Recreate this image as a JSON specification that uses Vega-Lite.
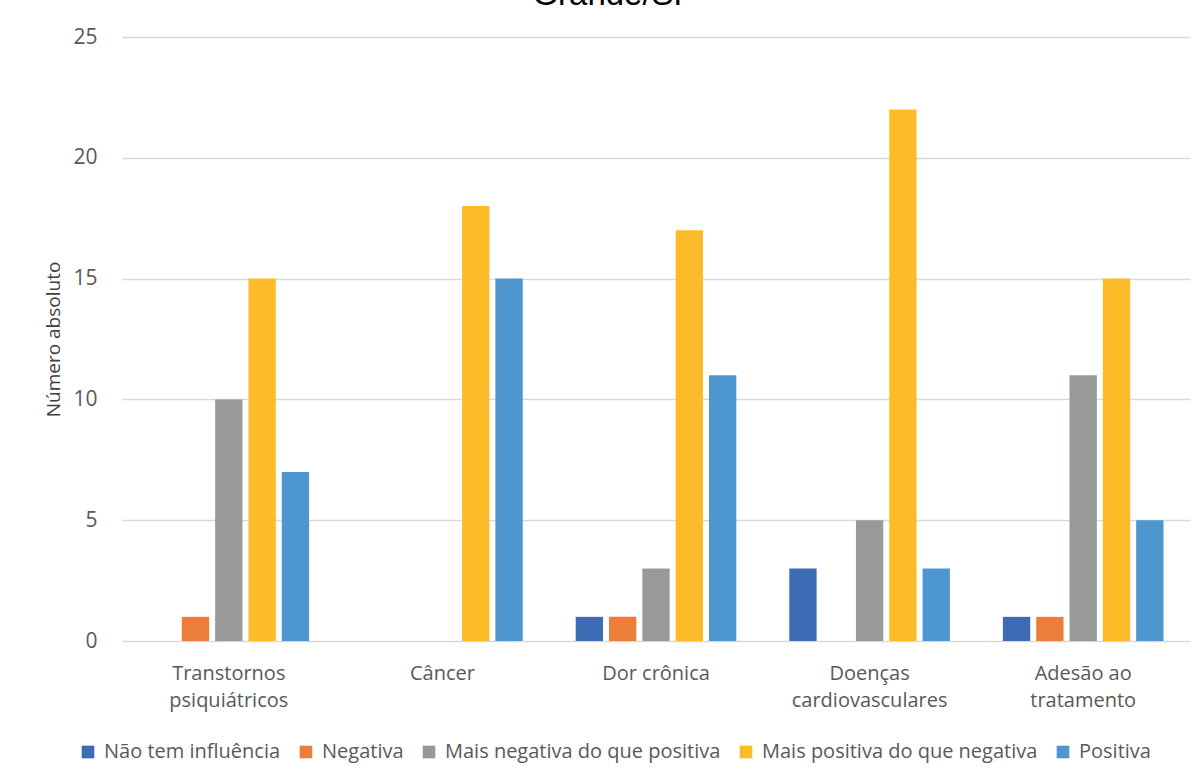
{
  "$schema": "https://vega.github.io/schema/vega-lite/v6.json",
  "width": 1068,
  "height": 604,
  "autosize": "none",
  "padding": {"left": 122, "top": 37, "right": 13, "bottom": 139},
  "background": "white",
  "title": {
    "text": "Grande/SP",
    "anchor": "middle",
    "font": "Liberation Sans",
    "fontSize": 33,
    "fontWeight": "normal",
    "color": "#000000",
    "baseline": "alphabetic",
    "offset": 6,
    "dx": -42,
    "dy": 18
  },
  "data": {
    "values": [
      {"condicao": "Transtornos psiquiátricos", "influencia": "Não tem influência", "n": 0},
      {"condicao": "Transtornos psiquiátricos", "influencia": "Negativa", "n": 1},
      {"condicao": "Transtornos psiquiátricos", "influencia": "Mais negativa do que positiva", "n": 10},
      {"condicao": "Transtornos psiquiátricos", "influencia": "Mais positiva do que negativa", "n": 15},
      {"condicao": "Transtornos psiquiátricos", "influencia": "Positiva", "n": 7},
      {"condicao": "Câncer", "influencia": "Não tem influência", "n": 0},
      {"condicao": "Câncer", "influencia": "Negativa", "n": 0},
      {"condicao": "Câncer", "influencia": "Mais negativa do que positiva", "n": 0},
      {"condicao": "Câncer", "influencia": "Mais positiva do que negativa", "n": 18},
      {"condicao": "Câncer", "influencia": "Positiva", "n": 15},
      {"condicao": "Dor crônica", "influencia": "Não tem influência", "n": 1},
      {"condicao": "Dor crônica", "influencia": "Negativa", "n": 1},
      {"condicao": "Dor crônica", "influencia": "Mais negativa do que positiva", "n": 3},
      {"condicao": "Dor crônica", "influencia": "Mais positiva do que negativa", "n": 17},
      {"condicao": "Dor crônica", "influencia": "Positiva", "n": 11},
      {"condicao": "Doenças cardiovasculares", "influencia": "Não tem influência", "n": 3},
      {"condicao": "Doenças cardiovasculares", "influencia": "Negativa", "n": 0},
      {"condicao": "Doenças cardiovasculares", "influencia": "Mais negativa do que positiva", "n": 5},
      {"condicao": "Doenças cardiovasculares", "influencia": "Mais positiva do que negativa", "n": 22},
      {"condicao": "Doenças cardiovasculares", "influencia": "Positiva", "n": 3},
      {"condicao": "Adesão ao tratamento", "influencia": "Não tem influência", "n": 1},
      {"condicao": "Adesão ao tratamento", "influencia": "Negativa", "n": 1},
      {"condicao": "Adesão ao tratamento", "influencia": "Mais negativa do que positiva", "n": 11},
      {"condicao": "Adesão ao tratamento", "influencia": "Mais positiva do que negativa", "n": 15},
      {"condicao": "Adesão ao tratamento", "influencia": "Positiva", "n": 5}
    ]
  },
  "mark": {"type": "bar"},
  "encoding": {
    "x": {
      "field": "condicao",
      "type": "nominal",
      "sort": null,
      "scale": {"paddingInner": 0.22, "paddingOuter": 0.11},
      "axis": {
        "title": null,
        "labelAngle": 0,
        "ticks": false,
        "domain": false,
        "labelPadding": 22,
        "labelFont": "Open Sans",
        "labelFontSize": 20,
        "labelColor": "#595959",
        "labelLineHeight": 27,
        "labelExpr": "datum.value == 'Transtornos psiquiátricos' ? ['Transtornos', 'psiquiátricos'] : datum.value == 'Doenças cardiovasculares' ? ['Doenças', 'cardiovasculares'] : datum.value == 'Adesão ao tratamento' ? ['Adesão ao', 'tratamento'] : datum.value"
      }
    },
    "xOffset": {
      "field": "influencia",
      "type": "nominal",
      "sort": null,
      "scale": {"paddingInner": 0.18, "paddingOuter": 0.09}
    },
    "y": {
      "field": "n",
      "type": "quantitative",
      "scale": {"domain": [0, 25]},
      "axis": {
        "title": "Número absoluto",
        "titleFont": "Open Sans",
        "titleFontSize": 19,
        "titleFontWeight": "normal",
        "titleColor": "#404040",
        "titlePadding": 9,
        "values": [0, 5, 10, 15, 20, 25],
        "ticks": false,
        "domain": false,
        "labelPadding": 25,
        "labelFont": "Open Sans",
        "labelFontSize": 21,
        "labelColor": "#595959",
        "gridColor": "#D9D9D9",
        "gridWidth": 1.5
      }
    },
    "color": {
      "field": "influencia",
      "type": "nominal",
      "sort": null,
      "scale": {
        "domain": ["Não tem influência", "Negativa", "Mais negativa do que positiva", "Mais positiva do que negativa", "Positiva"],
        "range": ["#3E6CB4", "#ED7D3A", "#989A9A", "#FDBB2A", "#4E96D0"]
      },
      "legend": {
        "title": null,
        "orient": "none",
        "direction": "horizontal",
        "legendX": -44,
        "legendY": 705,
        "symbolType": "square",
        "symbolSize": 160,
        "symbolStrokeWidth": 0,
        "labelFont": "Open Sans",
        "labelFontSize": 20,
        "labelColor": "#595959",
        "labelOffset": 6,
        "columnPadding": 15,
        "labelLimit": 400
      }
    }
  },
  "config": {
    "view": {"stroke": null}
  }
}
